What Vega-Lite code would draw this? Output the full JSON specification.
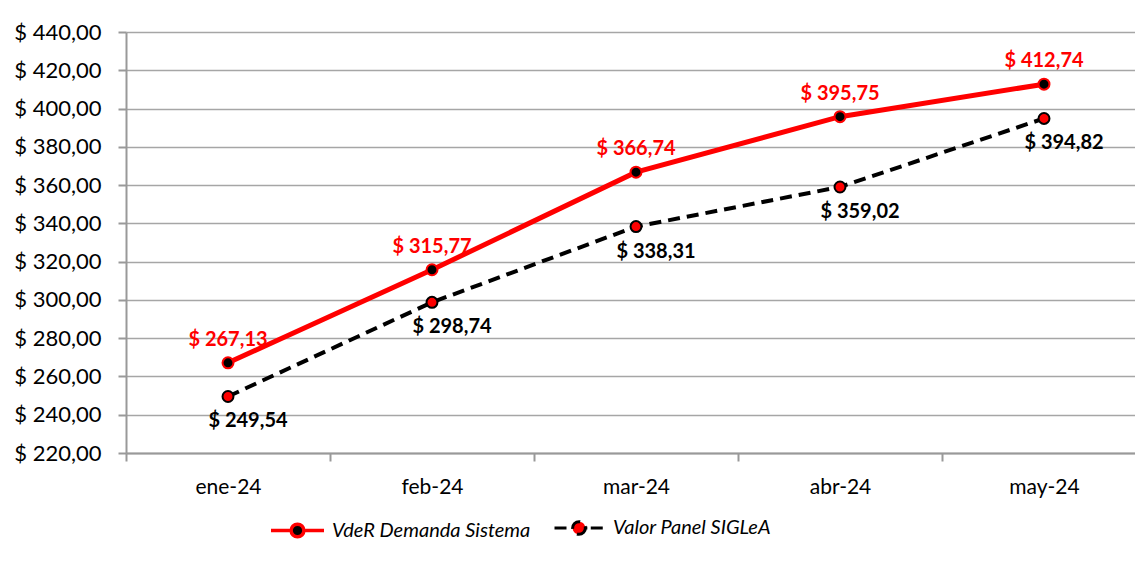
{
  "$schema": "https://vega.github.io/schema/vega-lite/v6.json",
  "autosize": {"type": "none"},
  "padding": {"left": 126, "top": 32, "right": 0, "bottom": 108},
  "width": 1020,
  "height": 421,
  "background": "white",
  "config": {
    "locale": {"number": {"decimal": ",", "thousands": ".", "grouping": [3], "currency": ["$ ", ""]}},
    "view": {"stroke": null},
    "font": "Lato"
  },
  "data": {
    "values": [
      {"mes": "ene-24", "serie": "VdeR Demanda Sistema", "valor": 267.13},
      {"mes": "feb-24", "serie": "VdeR Demanda Sistema", "valor": 315.77},
      {"mes": "mar-24", "serie": "VdeR Demanda Sistema", "valor": 366.74},
      {"mes": "abr-24", "serie": "VdeR Demanda Sistema", "valor": 395.75},
      {"mes": "may-24", "serie": "VdeR Demanda Sistema", "valor": 412.74},
      {"mes": "ene-24", "serie": "Valor Panel SIGLeA", "valor": 249.54},
      {"mes": "feb-24", "serie": "Valor Panel SIGLeA", "valor": 298.74},
      {"mes": "mar-24", "serie": "Valor Panel SIGLeA", "valor": 338.31},
      {"mes": "abr-24", "serie": "Valor Panel SIGLeA", "valor": 359.02},
      {"mes": "may-24", "serie": "Valor Panel SIGLeA", "valor": 394.82}
    ]
  },
  "encoding": {
    "x": {
      "field": "mes", "type": "nominal", "sort": null, "bandPosition": 0.5,
      "scale": {"type": "band", "paddingInner": 0, "paddingOuter": 0},
      "axis": {
        "title": null, "labelAngle": 0, "labelFont": "Lato", "labelFontSize": 21, "labelColor": "black",
        "labelPadding": 15, "tickBand": "extent", "ticks": true, "tickSize": 8, "tickColor": "#999999", "tickWidth": 2,
        "domainColor": "#999999", "domainWidth": 2, "grid": false
      }
    },
    "y": {
      "field": "valor", "type": "quantitative",
      "scale": {"domain": [220, 440], "nice": false, "zero": false},
      "axis": {
        "title": null, "values": [220, 240, 260, 280, 300, 320, 340, 360, 380, 400, 420, 440],
        "format": "$.2f", "labelFont": "Lato", "labelFontSize": 22, "labelColor": "black", "labelPadding": 17,
        "tickSize": 8, "tickColor": "#999999", "tickWidth": 2, "domainColor": "#999999", "domainWidth": 2,
        "grid": true, "gridColor": "#a6a6a6", "gridWidth": 1.5
      }
    }
  },
  "layer": [
    {
      "transform": [{"filter": "datum.serie === 'VdeR Demanda Sistema'"}],
      "mark": {"type": "line", "strokeWidth": 5},
      "encoding": {
        "stroke": {
          "field": "serie", "type": "nominal",
          "scale": {"domain": ["VdeR Demanda Sistema"], "range": ["#ff0000"]},
          "legend": {
            "orient": "none", "legendX": 143, "legendY": 470, "title": null,
            "labelFont": "Lato", "labelFontSize": 20, "labelFontStyle": "italic", "labelColor": "black", "labelLimit": 400,
            "symbolSize": 2809, "labelOffset": 6,
            "symbolType": "M-1,0L-0.24,0M0.24,0L1,0M0.24,0A0.24,0.24 0 1 1 -0.24,0A0.24,0.24 0 1 1 0.24,0Z",
            "symbolFillColor": "black", "symbolStrokeWidth": 3.5,
            "encode": {"symbols": {"update": {
              "fill": {"value": "black"},
              "stroke": {"value": "#ff0000"},
              "strokeWidth": {"value": 3.5},
              "opacity": {"value": 1}
            }}}
          }
        }
      }
    },
    {
      "transform": [{"filter": "datum.serie === 'Valor Panel SIGLeA'"}],
      "mark": {"type": "line", "color": "black", "strokeWidth": 4},
      "encoding": {
        "strokeDash": {
          "field": "serie", "type": "nominal",
          "scale": {"domain": ["Valor Panel SIGLeA"], "range": [[12, 7]]},
          "legend": {
            "orient": "none", "legendX": 427, "legendY": 470, "title": null,
            "labelFont": "Lato", "labelFontSize": 20, "labelFontStyle": "italic", "labelColor": "black", "labelLimit": 400,
            "symbolSize": 2401, "labelOffset": 8,
            "symbolType": "M-1,0L-0.4,0M0.26,0L0.34,0M0.48,0L1,0M0.26,0A0.26,0.26 0 1 1 -0.26,0A0.26,0.26 0 1 1 0.26,0Z",
            "symbolFillColor": "#ff0000", "symbolStrokeColor": "black", "symbolStrokeWidth": 3,
            "encode": {"symbols": {"update": {
              "fill": {"value": "#ff0000"},
              "stroke": {"value": "black"},
              "strokeDash": {"value": [1, 0]},
              "strokeWidth": {"value": 3},
              "opacity": {"value": 1}
            }}}
          }
        }
      }
    },
    {
      "transform": [{"filter": "datum.serie === 'VdeR Demanda Sistema'"}],
      "mark": {"type": "point", "shape": "circle", "filled": true, "fill": "black", "stroke": "#ff0000", "size": 120, "strokeWidth": 2, "opacity": 1}
    },
    {
      "transform": [{"filter": "datum.serie === 'Valor Panel SIGLeA'"}],
      "mark": {"type": "point", "shape": "circle", "filled": true, "fill": "#ff0000", "stroke": "black", "size": 120, "strokeWidth": 2, "opacity": 1}
    },
    {
      "transform": [{"filter": "datum.serie === 'VdeR Demanda Sistema'"}],
      "mark": {"type": "text", "color": "#ff0000", "font": "Lato", "fontWeight": "bold", "fontSize": 20, "dy": -23},
      "encoding": {"text": {"field": "valor", "type": "quantitative", "format": "$.2f"}}
    },
    {
      "transform": [{"filter": "datum.serie === 'Valor Panel SIGLeA'"}],
      "mark": {"type": "text", "color": "black", "font": "Lato", "fontWeight": "bold", "fontSize": 20, "dy": 25, "dx": 20},
      "encoding": {"text": {"field": "valor", "type": "quantitative", "format": "$.2f"}}
    }
  ]
}
